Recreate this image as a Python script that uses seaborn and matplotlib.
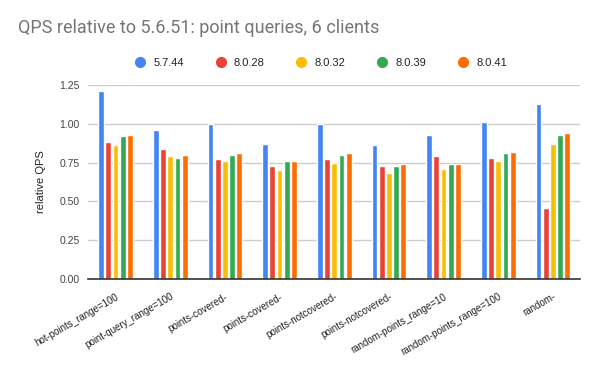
import pandas as pd
import matplotlib.pyplot as plt
import seaborn as sns
from matplotlib.lines import Line2D

# chart data
tests = ['hot-points_range=100', 'point-query_range=100', 'points-covered-', 'points-covered- ',
         'points-notcovered-', 'points-notcovered- ', 'random-points_range=10',
         'random-points_range=100', 'random-']
versions = ['5.7.44', '8.0.28', '8.0.32', '8.0.39', '8.0.41']
v5744 = [1.21, 0.96, 1.00, 0.87, 1.00, 0.86, 0.93, 1.01, 1.13]
v8028 = [0.88, 0.84, 0.77, 0.73, 0.77, 0.73, 0.79, 0.78, 0.46]
v8032 = [0.86, 0.79, 0.76, 0.70, 0.75, 0.68, 0.71, 0.76, 0.87]
v8039 = [0.92, 0.78, 0.80, 0.76, 0.80, 0.73, 0.74, 0.81, 0.93]
v8041 = [0.93, 0.80, 0.81, 0.76, 0.81, 0.74, 0.74, 0.82, 0.94]
colors = ['#4285F4', '#EA4335', '#FBBC04', '#34A853', '#FF6D01']

rows = []
for ver, vals in zip(versions, [v5744, v8028, v8032, v8039, v8041]):
    for t, v in zip(tests, vals):
        rows.append({'test': t, 'version': ver, 'qps': v})
df = pd.DataFrame(rows)

sns.set_style('white')
plt.rcParams['font.family'] = ['Liberation Sans', 'DejaVu Sans']

fig = plt.figure(figsize=(6, 3.71), dpi=100)
ax = fig.add_axes([0.147, 0.248, 0.82, 0.523])

sns.barplot(data=df, x='test', y='qps', hue='version', order=tests, hue_order=versions,
            palette=colors, width=0.66, gap=0.2, saturation=1, legend=False, ax=ax)

ax.set_ylim(0, 1.25)
ax.set_yticks([0, 0.25, 0.5, 0.75, 1.0, 1.25])
ax.set_yticklabels(['0.00', '0.25', '0.50', '0.75', '1.00', '1.25'], fontsize=7.5, color='#444444')
ax.yaxis.grid(True, color='#cccccc', linewidth=1)
ax.set_axisbelow(True)
ax.set_xlim(-0.5, len(tests) - 0.5)
ax.set_xticks(range(len(tests)))
ax.set_xticklabels([t.strip() for t in tests], rotation=30, ha='right', rotation_mode='anchor',
                   fontsize=7, color='#222222')
ax.tick_params(axis='both', length=0, pad=6)
ax.tick_params(axis='x', pad=9)
ax.set_xlabel('')
ax.set_ylabel('relative QPS', fontsize=8, color='#222222', labelpad=10)
for s in ['top', 'right', 'left']:
    ax.spines[s].set_visible(False)
ax.spines['bottom'].set_color('#333333')
ax.spines['bottom'].set_linewidth(1.2)

fig.text(0.03, 0.91, 'QPS relative to 5.6.51: point queries, 6 clients', fontsize=13,
         color='#757575', family=['Roboto', 'DejaVu Sans'])

handles = [Line2D([], [], marker='o', linestyle='', markersize=7, color=c) for c in colors]
fig.legend(handles, versions, loc='center', bbox_to_anchor=(0.53, 0.83), ncol=5, frameon=False,
           fontsize=8, handletextpad=0.2, columnspacing=2.3, labelcolor='#222222')

fig.savefig('out.png', dpi=100)
